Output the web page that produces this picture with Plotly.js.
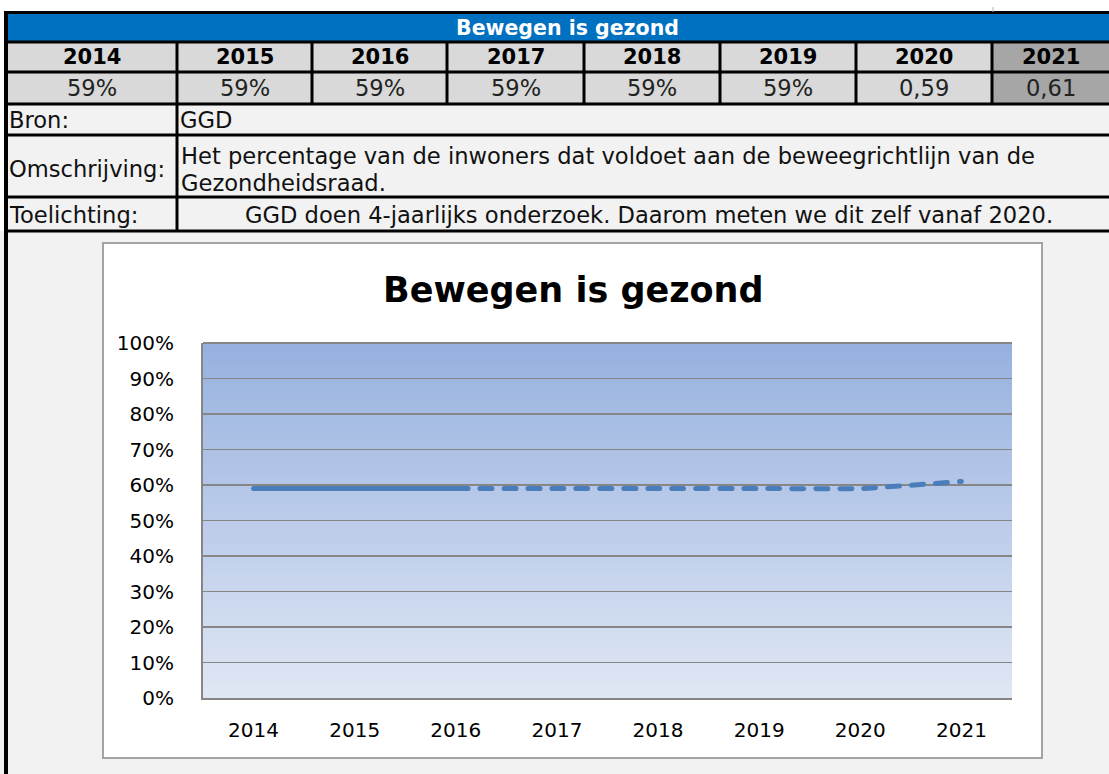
<!DOCTYPE html>
<html><head><meta charset="utf-8">
<script src="https://cdn.plot.ly/plotly-3.0.1.min.js"></script>
<style>html,body{margin:0;padding:0;background:#fff;}#chart{width:1109px;height:774px;}</style>
</head><body><div id="chart"></div>
<script>
// ---- data ----
const headerTitle = 'Bewegen is gezond';
const chartTitle = 'Bewegen is gezond';
const years = ['2014','2015','2016','2017','2018','2019','2020','2021'];
const values = [0.59, 0.59, 0.59, 0.59, 0.59, 0.59, 0.59, 0.61];
const valueLabels = ['59%','59%','59%','59%','59%','59%','0,59','0,61'];
const sourceLabel = 'Bron:';
const sourceText = 'GGD';
const descLabel = 'Omschrijving:';
const descLines = ['Het percentage van de inwoners dat voldoet aan de beweegrichtlijn van de', 'Gezondheidsraad.'];
const noteLabel = 'Toelichting:';
const noteText = 'GGD doen 4-jaarlijks onderzoek. Daarom meten we dit zelf vanaf 2020.';
const yTickVals = [0, 0.1, 0.2, 0.3, 0.4, 0.5, 0.6, 0.7, 0.8, 0.9, 1.0];
const solidUntil = '2016';

// ---- layout helpers ----
const W = 1109, H = 774;
const px = x => x / W, py = y => 1 - y / H;
const shapes = [];
const annotations = [];
function rect(x0, y0, x1, y1, fill, line) {
  shapes.push({type:'rect', xref:'paper', yref:'paper', x0:px(x0), x1:px(x1), y0:py(y1), y1:py(y0),
    fillcolor:fill, line: line || {width:0}, layer:'below'});
}
function seg(x0, y0, x1, y1, w, c) {
  shapes.push({type:'line', xref:'paper', yref:'paper', x0:px(x0), x1:px(x1), y0:py(y0), y1:py(y1),
    line:{color:c || '#000', width:w}, layer:'below'});
}
function text(t, x, y, size, opts) {
  opts = opts || {};
  annotations.push({xref:'paper', yref:'paper', x:px(x), y:py(y), text:t, showarrow:false,
    xanchor: opts.xanchor || 'center', yanchor:'middle', align: opts.align || 'left',
    font:{family:'DejaVu Sans', size:size, color: opts.color || '#111'}});
}

const colX = [6, 177, 312, 447, 584, 720, 856, 992, 1109];
const rowY = [12.5, 42, 72, 104, 135, 197, 231];

// backgrounds
rect(0, 231, W, H, '#f2f2f2');
rect(6, rowY[0], W, rowY[1], '#0070c0');
for (let i = 0; i < years.length; i++) {
  const fill = i === years.length - 1 ? '#a6a6a6' : '#d9d9d9';
  rect(colX[i], rowY[1], colX[i+1], rowY[3], fill);
}
rect(6, rowY[3], W, rowY[6], '#f2f2f2');
// chart box
rect(103, 243, 1042, 758, '#ffffff', {color:'#a3a3a3', width:2});

// table grid lines
rowY.forEach(y => seg(6, y, W, y, 3));
seg(6, 11, 6, H, 4);
for (let i = 1; i < colX.length - 1; i++) seg(colX[i], rowY[1], colX[i], rowY[3], 3);
seg(177, rowY[3], 177, rowY[6], 3);
seg(993, 7, 993, 12, 1, '#b0b0b0');

// table text
const bodySize = 22.6;
text('<b>' + headerTitle + '</b>', 567, 28, 20.5, {color:'#ffffff'});
years.forEach((yr, i) => text('<b>' + yr + '</b>', (colX[i] + colX[i+1]) / 2, 57.5, 21, {color:'#000'}));
valueLabels.forEach((v, i) => text(v, (colX[i] + colX[i+1]) / 2, 88.5, bodySize, {color:'#222'}));
text(sourceLabel, 7, 120, bodySize, {xanchor:'left'});
text(sourceText, 178, 120, bodySize, {xanchor:'left'});
text(descLabel, 7, 169, bodySize, {xanchor:'left'});
text(descLines[0], 179, 156, bodySize, {xanchor:'left'});
text(descLines[1], 179, 183, bodySize, {xanchor:'left'});
text(noteLabel, 7, 215, bodySize, {xanchor:'left'});
text(noteText, 649, 215, bodySize);

// chart title
text('<b>' + chartTitle + '</b>', 573, 290, 35, {color:'#000'});

// plot-area gradient (top -> bottom)
const gradTop = [150, 177, 223], gradBot = [224, 231, 244];
const N = 60;
for (let k = 0; k < N; k++) {
  const t = (k + 0.5) / N; // 0 bottom -> 1 top
  const c = gradBot.map((b, j) => Math.round(b + (gradTop[j] - b) * t));
  shapes.push({type:'rect', xref:'x domain', yref:'y domain', x0:0, x1:1, y0:k / N, y1:(k + 1) / N + 0.002,
    fillcolor:'rgb(' + c.join(',') + ')', line:{width:0}, layer:'below'});
}
shapes.push({type:'line', xref:'x domain', yref:'y domain', x0:0, x1:1, y0:1, y1:1,
  line:{color:'#868686', width:2}, layer:'above'});

const cut = years.indexOf(solidUntil);
const traces = [
  {x: years.slice(0, cut + 1), y: values.slice(0, cut + 1), type:'scatter', mode:'lines',
   line:{color:'#4a7ebb', width:5}, hoverinfo:'skip'},
  {x: years.slice(cut), y: values.slice(cut), type:'scatter', mode:'lines',
   line:{color:'#4a7ebb', width:5, dash:'12px,12px', shape:'spline', smoothing:0.35}, hoverinfo:'skip'}
];

const axisFont = {family:'DejaVu Sans', size:20, color:'#000'};
const layout = {
  width: W, height: H,
  margin: {l:0, r:0, t:0, b:0},
  paper_bgcolor: '#ffffff',
  plot_bgcolor: 'rgba(0,0,0,0)',
  showlegend: false,
  xaxis: {type:'category', range:[-0.5, years.length - 0.5], domain:[px(203), px(1012)],
    showgrid:false, showline:true, linecolor:'#868686', linewidth:2, ticks:'',
    tickfont:axisFont, ticklabelstandoff:13, fixedrange:true},
  yaxis: {range:[0, 1], domain:[py(698), py(343)], tickvals:yTickVals, tickformat:'.0%',
    showgrid:true, gridcolor:'#868686', gridwidth:1.5, zeroline:false,
    showline:true, linecolor:'#868686', linewidth:2, ticks:'',
    tickfont:axisFont, ticklabelstandoff:23, fixedrange:true},
  shapes: shapes,
  annotations: annotations
};
Plotly.newPlot('chart', traces, layout, {staticPlot:true, displayModeBar:false}).then(gd => {
  gd.querySelectorAll('.scatterlayer path.js-line').forEach(p => {
    p.style.strokeLinecap = 'round';
    p.style.strokeLinejoin = 'round';
  });
});
</script>
</body></html>
